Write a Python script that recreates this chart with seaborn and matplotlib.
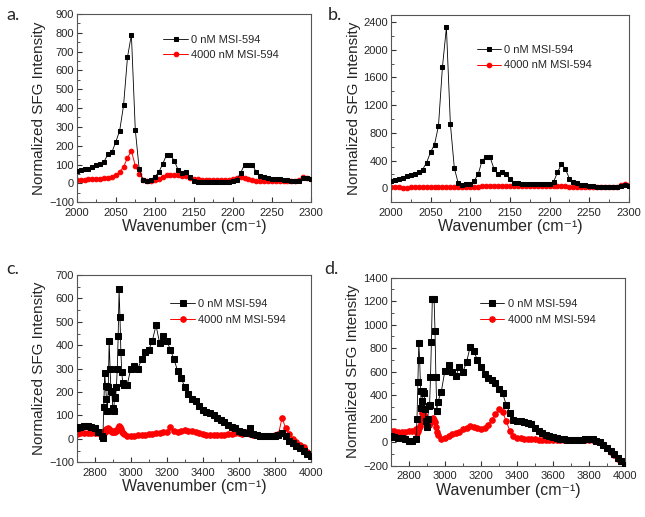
import matplotlib
matplotlib.use('Agg')
import matplotlib.pyplot as plt
import seaborn as sns
from matplotlib.ticker import MultipleLocator, AutoMinorLocator

# wavenumber grids
x_ab = [2000, 2005, 2010, 2015, 2020, 2025, 2030, 2035, 2040, 2045, 2050, 2055, 2060, 2065, 2070,
        2075, 2080, 2085, 2090, 2095, 2100, 2105, 2110, 2115, 2120, 2125, 2130, 2135, 2140, 2145,
        2150, 2155, 2160, 2165, 2170, 2175, 2180, 2185, 2190, 2195, 2200, 2205, 2210, 2215, 2220,
        2225, 2230, 2235, 2240, 2245, 2250, 2255, 2260, 2265, 2270, 2275, 2280, 2285, 2290, 2295, 2300]

x_cd = [2700, 2720, 2740, 2760, 2780, 2800, 2820, 2840,
        2845, 2850, 2855, 2860, 2865, 2870, 2875, 2880, 2885, 2890, 2895, 2900, 2905, 2910,
        2915, 2920, 2925, 2930, 2935, 2940, 2945, 2950, 2955, 2960,
        2980, 3000, 3020, 3040, 3060, 3080, 3100, 3120, 3140, 3160, 3180, 3200, 3220, 3240,
        3260, 3280, 3300, 3320, 3340, 3360, 3380, 3400, 3420, 3440, 3460, 3480, 3500, 3520,
        3540, 3560, 3580, 3600, 3620, 3640, 3660, 3680, 3700, 3720, 3740, 3760, 3780, 3800,
        3820, 3840, 3860, 3880, 3900, 3920, 3940, 3960, 3980, 4000]

# panel a
a_0nM = [65, 72, 75, 78, 85, 95, 105, 115, 155, 165, 220, 280, 415, 670, 790,
         285, 75, 18, 15, 20, 35, 58, 102, 150, 150, 120, 70, 55, 60, 35,
         15, 8, 5, 5, 5, 5, 5, 5, 5, 8, 12, 20, 55, 100, 100,
         98, 60, 40, 32, 28, 25, 22, 22, 20, 18, 15, 12, 12, 30, 28, 22]
a_4000nM = [18, 20, 20, 22, 22, 25, 25, 28, 30, 35, 44, 61, 88, 135, 173,
            93, 52, 20, 15, 15, 18, 25, 35, 42, 45, 45, 42, 40, 40, 30,
            25, 22, 20, 18, 18, 18, 18, 18, 20, 20, 22, 28, 32, 28, 22,
            18, 15, 15, 12, 12, 12, 12, 12, 12, 12, 12, 15, 20, 35, 28, 22]

# panel b
b_0nM = [110, 115, 130, 150, 170, 190, 210, 230, 270, 370, 520, 630, 900, 1750, 2320,
         930, 290, 70, 50, 55, 60, 110, 200, 400, 450, 450, 280, 200, 240, 210,
         130, 80, 75, 65, 60, 60, 60, 60, 60, 60, 60, 90, 230, 350, 280,
         140, 90, 70, 50, 45, 40, 35, 25, 20, 20, 20, 20, 20, 40, 50, 40]
b_4000nM = [15, 12, 12, 10, 10, 12, 12, 15, 15, 15, 15, 15, 18, 18, 18,
            18, 18, 18, 20, 20, 20, 22, 25, 30, 35, 35, 30, 30, 32, 35,
            38, 40, 40, 40, 38, 38, 38, 35, 35, 35, 35, 35, 30, 30, 28,
            25, 25, 22, 22, 20, 20, 20, 20, 20, 20, 20, 20, 22, 50, 55, 45]

# panel c
c_0nM = [45, 50, 55, 55, 50, 45, 30, 10,
         5, 135, 280, 225, 170, 120, 220, 420, 300, 205, 200, 130, 120, 180,
         175, 220, 300, 440, 640, 520, 370, 285, 240, 230,
         230, 300, 310, 300, 340, 370, 380, 420, 485, 410, 440, 420, 380, 340,
         290, 260, 220, 190, 170, 160, 140, 125, 115, 110, 100, 90, 80, 70,
         60, 50, 45, 35, 30, 25, 45, 20, 15, 12, 10, 10, 10, 10,
         15, 25, 10, -10, -20, -30, -40, -50, -65, -75]
c_4000nM = [22, 25, 25, 25, 25, 25, 25, 28,
            30, 25, 30, 40, 35, 40, 45, 42, 38, 35, 30, 30, 32, 35,
            30, 35, 38, 45, 55, 50, 40, 30, 25, 20,
            12, 10, 12, 15, 15, 18, 20, 22, 25, 25, 28, 30, 50, 32,
            30, 35, 38, 35, 32, 28, 25, 20, 18, 15, 15, 15, 15, 18,
            20, 22, 25, 25, 22, 30, 20, 15, 15, 12, 12, 10, 12, 15,
            20, 90, 45, 20, 0, -15, -25, -35, -55, -65]

# panel d
d_0nM = [50, 45, 40, 35, 25, 15, 10, 30,
         195, 510, 840, 700, 440, 290, 350, 440, 420, 280, 180, 130, 200, 310,
         320, 555, 850, 1215, 1220, 1220, 950, 555, 270, 340,
         430, 610, 655, 600, 560, 640, 600, 680, 810, 780, 700, 640, 580, 550,
         530, 500, 450, 420, 320, 250, 190, 185, 180, 175, 165, 155, 125, 100,
         80, 60, 50, 42, 35, 30, 25, 20, 20, 20, 20, 20, 25, 30,
         25, 15, 0, -20, -45, -70, -100, -130, -160, -190]
d_4000nM = [100, 95, 90, 85, 90, 95, 100, 110,
            80, 100, 120, 140, 170, 200, 250, 250, 230, 210, 200, 190, 170, 150,
            160, 170, 180, 200, 210, 190, 170, 130, 90, 60,
            30, 40, 55, 70, 80, 90, 110, 125, 135, 130, 120, 110, 125, 150,
            190, 240, 280, 260, 180, 100, 50, 40, 35, 30, 28, 25, 25, 22,
            22, 20, 20, 20, 20, 20, 20, 20, 20, 20, 20, 20, 20, 20,
            18, 10, 0, -20, -45, -80, -110, -140, -160, -170]

labels = ['0 nM MSI-594', '4000 nM MSI-594']

sns.set_theme(style='ticks')
plt.rcParams['font.family'] = ['Liberation Sans', 'DejaVu Sans']
plt.rcParams['xtick.direction'] = 'in'
plt.rcParams['ytick.direction'] = 'in'

fig = plt.figure(figsize=(6.45, 5.17), dpi=100)

panels = [
    # letter, rect, x, y0, y1, xlim, xstep, ylim, ystep, legend anchor, ms
    ('a.', [0.119, 0.609, 0.363, 0.364], x_ab, a_0nM, a_4000nM, (2000, 2300), 50, (-100, 900), 100, (0.37, 0.89), 3.3),
    ('b.', [0.606, 0.609, 0.369, 0.362], x_ab, b_0nM, b_4000nM, (2000, 2300), 50, (-200, 2500), 400, (0.36, 0.84), 3.3),
    ('c.', [0.119, 0.106, 0.363, 0.362], x_cd, c_0nM, c_4000nM, (2700, 4000), 200, (-100, 700), 100, (0.40, 0.87), 4),
    ('d.', [0.606, 0.099, 0.363, 0.364], x_cd, d_0nM, d_4000nM, (2700, 4000), 200, (-200, 1400), 200, (0.38, 0.885), 4),
]

letter_pos = {'a.': (0.010, 0.962), 'b.': (0.508, 0.962), 'c.': (0.010, 0.470), 'd.': (0.503, 0.470)}

for letter, rect, x, y0, y1, xlim, xstep, ylim, ystep, anchor, ms in panels:
    ax = fig.add_axes(rect)
    sns.lineplot(x=x, y=y1, ax=ax, color='red', marker='o', markersize=ms,
                 markeredgecolor='red', linewidth=0.7, label=labels[1], zorder=2)
    sns.lineplot(x=x, y=y0, ax=ax, color='black', marker='s', markersize=ms,
                 markeredgecolor='black', linewidth=0.6, label=labels[0], zorder=3)
    ax.set_xlim(*xlim)
    ax.set_ylim(*ylim)
    ax.xaxis.set_major_locator(MultipleLocator(xstep))
    ax.yaxis.set_major_locator(MultipleLocator(ystep))
    ax.xaxis.set_minor_locator(AutoMinorLocator(2))
    ax.yaxis.set_minor_locator(AutoMinorLocator(2))
    ax.tick_params(which='major', length=3.5, width=0.8, labelsize=8, pad=2, color='#333333')
    ax.tick_params(axis='x', which='major', pad=4)
    ax.tick_params(which='minor', length=2, width=0.6, color='#333333')
    for s in ax.spines.values():
        s.set_color('#555555')
        s.set_linewidth(0.8)
    ax.set_xlabel('Wavenumber (cm\u207b\u00b9)', fontsize=11.5, labelpad=1)
    ax.set_ylabel('Normalized SFG Intensity', fontsize=11, labelpad=2)
    h, l = ax.get_legend_handles_labels()
    ax.legend(h[::-1], l[::-1], loc='upper left', bbox_to_anchor=anchor, frameon=False,
              fontsize=8, handlelength=2.2, handletextpad=0.3, labelspacing=0.5,
              borderpad=0, borderaxespad=0)
    fig.text(*letter_pos[letter], letter, fontsize=13, family='Lato')

fig.savefig('out.png', dpi=100, facecolor='white')
